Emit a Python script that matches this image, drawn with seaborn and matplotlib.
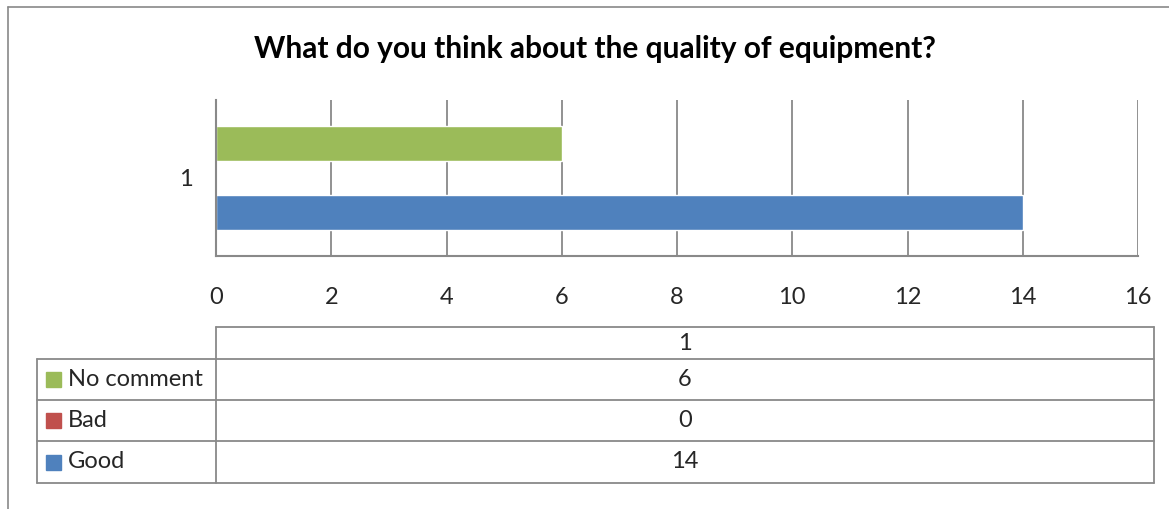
import pandas as pd
import numpy as np
import matplotlib.pyplot as plt
import seaborn as sns
from matplotlib.lines import Line2D
from matplotlib.patches import Rectangle

# data
series = ['No comment', 'Bad', 'Good']
values = [6, 0, 14]
colors = ['#9BBB59', '#C0504D', '#4F81BD']
category = ['1']
xticks = [0, 2, 4, 6, 8, 10, 12, 14, 16]

df = pd.DataFrame({'cat': category * len(series), 'answer': series, 'count': values})

sns.set_style('white')
plt.rcParams['font.family'] = ['Lato', 'DejaVu Sans']
gray = '#898989'
fs = 17

fig = plt.figure(figsize=(11.69, 5.09), dpi=100)
W, H = 1169, 509

# outer chart border
fig.add_artist(Line2D([8 / W, 1], [1 - 7 / H, 1 - 7 / H], color=gray, lw=1.2))
fig.add_artist(Line2D([8 / W, 8 / W], [0, 1 - 7 / H], color=gray, lw=1.2))

fig.text(595 / W, 1 - 49 / H, 'What do you think about the quality of equipment?',
         ha='center', va='center', fontsize=21.5, fontweight='bold', color='black')

ax = fig.add_axes([216 / W, 1 - 256 / H, (1138 - 216) / W, 156 / H])
sns.barplot(data=df, x='count', y='cat', hue='answer', hue_order=series,
            palette=colors, orient='h', width=0.8, ax=ax, legend=False,
            saturation=1)
ax.set_xlim(0, 16)
ax.set_ylim(0.595, -0.595)
ax.set_xticks(xticks)
ax.set_xticklabels([str(t) for t in xticks], fontsize=fs)
ax.tick_params(axis='x', length=0, pad=22)
ax.tick_params(axis='y', length=0, pad=17, labelsize=fs)
ax.grid(axis='x', color=gray, lw=1.3)
ax.set_axisbelow(True)
for s in ['top', 'right']:
    ax.spines[s].set_visible(False)
for s in ['left', 'bottom']:
    ax.spines[s].set_color(gray)
    ax.spines[s].set_linewidth(1.5)
ax.set_xlabel('')
ax.set_ylabel('')

# data table below
tx = fig.add_axes([0, 0, 1, 1], facecolor='none')
tx.set_xlim(0, W)
tx.set_ylim(H, 0)
tx.axis('off')
rows_y = [327, 359, 400, 441, 483]
x_left, x_mid, x_right = 37, 216, 1154
tl = dict(color=gray, lw=1.3)
tx.plot([x_mid, x_right], [rows_y[0]] * 2, **tl)
for y in rows_y[1:]:
    tx.plot([x_left, x_right], [y, y], **tl)
tx.plot([x_mid, x_mid], [rows_y[0], rows_y[-1]], **tl)
tx.plot([x_right, x_right], [rows_y[0], rows_y[-1]], **tl)
tx.plot([x_left, x_left], [rows_y[1], rows_y[-1]], **tl)

xc = (x_mid + x_right) / 2
tx.text(xc, (rows_y[0] + rows_y[1]) / 2, category[0], ha='center', va='center', fontsize=fs)
for i, (name, val, c) in enumerate(zip(series, values, colors)):
    yc = (rows_y[i + 1] + rows_y[i + 2]) / 2
    tx.add_patch(Rectangle((46, yc - 7.5), 15, 15, color=c))
    tx.text(68, yc, name, ha='left', va='center', fontsize=fs)
    tx.text(xc, yc, str(val), ha='center', va='center', fontsize=fs)

fig.savefig('out.png', dpi=100)
